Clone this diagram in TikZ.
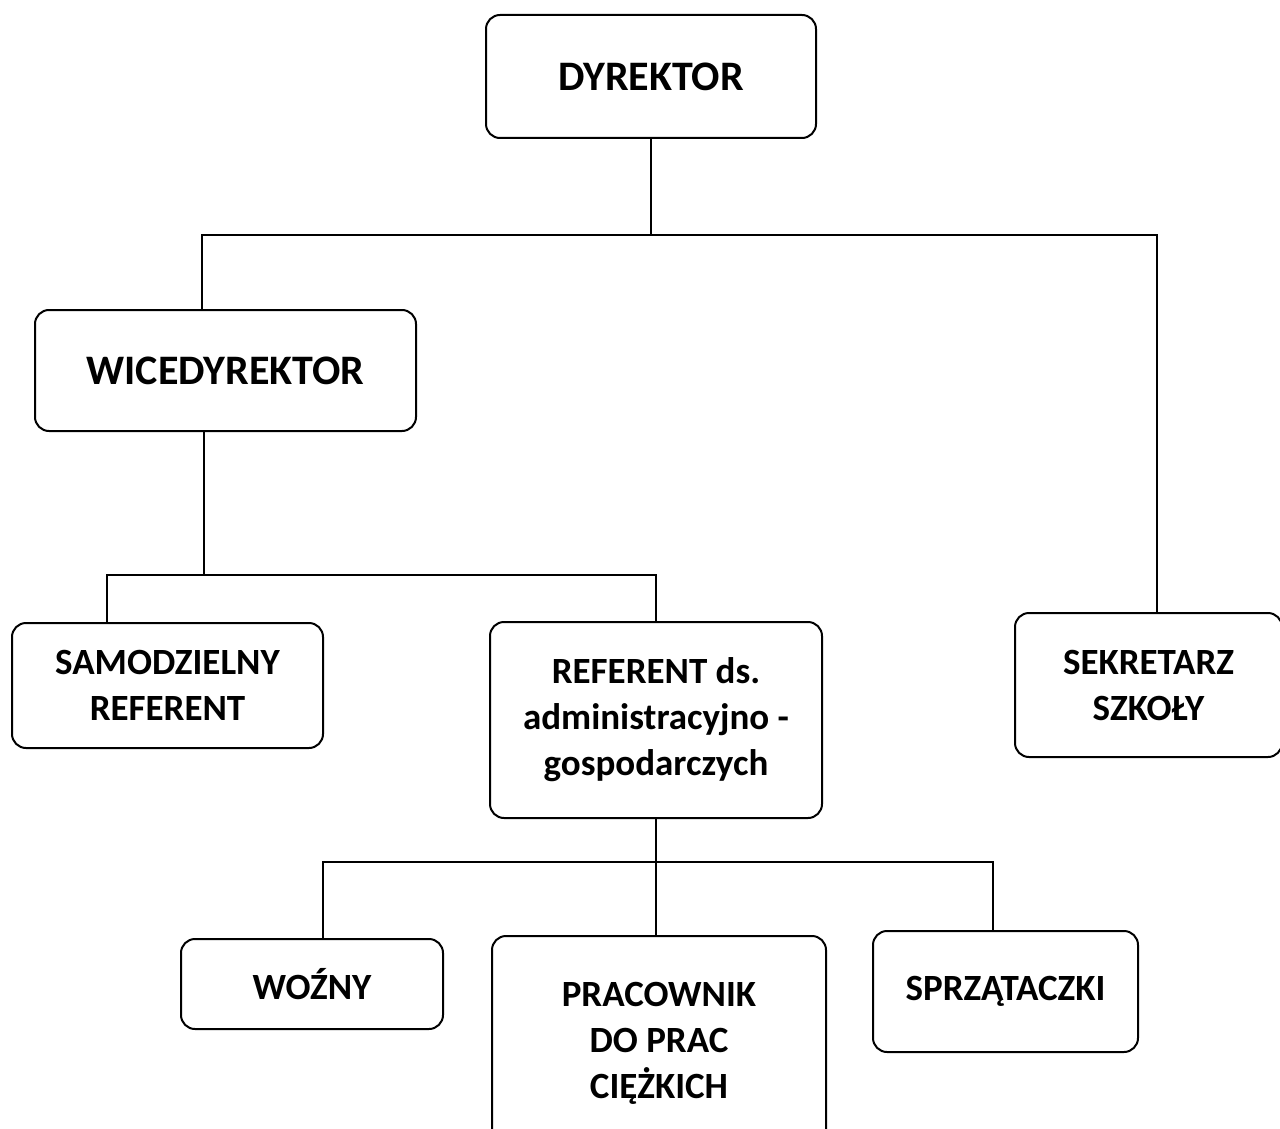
\documentclass[tikz,border=0pt]{standalone}
\usepackage{fontspec}
\setmainfont{Carlito}
\usepackage{tikz}
\usetikzlibrary{positioning}

\tikzset{
        unit/.style={draw, line width=1pt, rounded corners=7pt, align=center, inner sep=0pt,
                font=\bfseries\fontsize{18.5}{23}\selectfont},
        headunit/.style={unit, font=\bfseries\fontsize{21}{25}\selectfont},
        link/.style={line width=1pt}
}

\begin{document}
\begin{tikzpicture}[x=0.5pt, y=-0.5pt]
        \clip (0,0) rectangle (1280,1129);

        \node[headunit, minimum width=165pt, minimum height=61.5pt] (dyr) at (651,76.5) {DYREKTOR};
        \node[headunit, minimum width=190.5pt, minimum height=60.5pt] (wice) at (225.5,370.5) {WICEDYREKTOR};
        \node[unit, minimum width=155.5pt, minimum height=62.5pt] (sam) at (167.5,685.5) {SAMODZIELNY\\REFERENT};
        \node[unit, minimum width=166pt, minimum height=98pt] (ref) at (656,720) {REFERENT ds.\\administracyjno -\\gospodarczych};
        \node[unit, minimum width=133.5pt, minimum height=72pt] (sek) at (1148.5,685) {SEKRETARZ\\SZKOŁY};
        \node[unit, minimum width=131pt, minimum height=45pt] (woz) at (312,984) {WOŹNY};
        \node[unit, minimum width=167pt, minimum height=107pt] (prac) at (659,1043) {PRACOWNIK\\DO PRAC\\CIĘŻKICH};
        \node[unit, minimum width=132.5pt, minimum height=60.5pt] (sprz) at (1005.5,991.5) {SPRZĄTACZKI};

        % bars
        \coordinate (barA) at (202,235);
        \coordinate (barB) at (1157,235);
        \coordinate (barC) at (107,575);
        \coordinate (barD) at (656,575);
        \coordinate (barE) at (323,862);
        \coordinate (barF) at (993,862);

        \draw[link] (dyr.south) -- (dyr.south |- barA);
        \draw[link] (barA |- wice.north) -- (barA) -- (barB) -- (barB |- sek.north);

        \draw[link] ([xshift=-10.75pt]wice.south) -- ([xshift=-10.75pt]wice.south |- barC);
        \draw[link] (barC |- sam.north) -- (barC) -- (barD) -- (barD |- ref.north);

        \draw[link] (ref.south) -- (ref.south |- prac.north);
        \draw[link] (barE |- woz.north) -- (barE) -- (barF) -- (barF |- sprz.north);
\end{tikzpicture}
\end{document}
